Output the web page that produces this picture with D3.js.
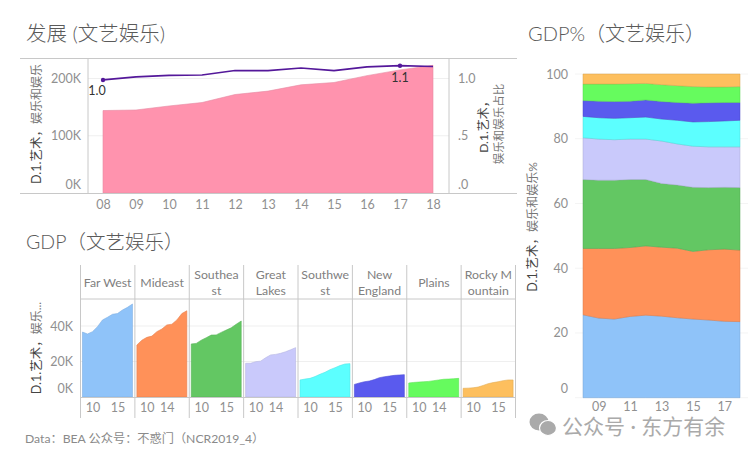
<!DOCTYPE html>
<html><head><meta charset="utf-8">
<script src="https://cdnjs.cloudflare.com/ajax/libs/d3/7.8.5/d3.min.js"></script>
<style>
html,body{margin:0;padding:0;background:#fff}
svg{display:block}
text{font-family:Lato,"Noto Sans CJK SC",sans-serif}
.tick line,.domain{display:none}
.tick text{fill:#909090;font-size:12.5px;font-family:Lato,sans-serif}
</style></head><body>
<script>
const years=[2008,2009,2010,2011,2012,2013,2014,2015,2016,2017,2018];
const totalGdp=[144,145,152,158,172,178,189,193,205,215,223];
const shareLine=[0.983,1.009,1.022,1.026,1.065,1.065,1.087,1.065,1.096,1.107,1.1];
const regions=["Far West","Mideast","Southeast","Great Lakes","Southwest","New England","Plains","Rocky Mountain"];
const regionHeaders=[["Far West"],["Mideast"],["Southea","st"],["Great","Lakes"],["Southwe","st"],["New","England"],["Plains"],["Rocky M","ountain"]];
const regionTicks=[[10,15],[10,14],[10,15],[10,14],[10,15],[10,15],[10,14],[10,15]];
const regionColors=["#8fc3f9","#ff9159","#63c763","#c9c9fb","#5cffff","#5a5aee","#66fb5e","#fdbf5e"];
const farWest=[36.6,35.5,36.8,39.6,43.4,44.9,46.6,47,49,50.5,52.4];
const mideast=[29.3,32,33.6,34.3,36.8,38.3,40.6,41,43.4,47,48.6];
const southeast=[29.9,30.2,32,33.4,34.9,35,36.4,37.7,39,41,42.8];
const greatLakes=[19,19,19.9,20.2,22.1,23.7,24,24.6,25.5,26.6,27.8];
const southwest=[9.6,10.1,10.5,11.5,12.8,13.9,15.4,16.5,17.7,18.6,18.8];
const newEngland=[7.1,7.9,8.6,9,9.8,10.9,11.4,11.8,12.2,12.4,12.6];
const plains=[7.9,8.2,8.4,8.6,8.8,9.2,9.6,10,10.1,10.3,10.5];
const rocky=[4.9,5,5.2,5.6,6.5,7.5,8.1,8.6,9.2,9.6,9.6];
const regionGdp=[farWest,mideast,southeast,greatLakes,southwest,newEngland,plains,rocky];
const pctFarWest=[25.6,24.6,24.3,25.1,25.5,25.2,24.7,24.3,24.0,23.6,23.5];
const pctMideast=[20.5,21.5,21.8,21.3,21.4,21.3,21.5,20.9,21.7,22.3,22.1];
const pctSoutheast=[21.3,21.1,21.1,21.0,20.5,19.7,19.5,19.8,19.2,19.1,19.3];
const pctGreatLakes=[12.9,12.7,12.5,12.5,12.5,13.1,12.7,12.7,12.6,12.5,12.6];
const pctSouthwest=[6.6,6.6,6.6,6.6,6.8,6.8,7.3,7.5,7.8,8,8.2];
const pctNewEngland=[4.9,5.1,5.2,5.1,5.3,5.4,5.5,5.8,5.8,5.7,5.5];
const pctPlains=[5.1,5.3,5.4,5.4,5.1,5.2,5.2,5.1,4.9,4.8,4.9];
const pctRocky=[3.1,3.1,3.1,3.0,2.9,3.3,3.6,3.9,4,4,3.9];
const regionPct=[pctFarWest,pctMideast,pctSoutheast,pctGreatLakes,pctSouthwest,pctNewEngland,pctPlains,pctRocky];

const svg=d3.select("body").append("svg").attr("width",751).attr("height",455);
const yy=v=>String(v%100).padStart(2,"0");
const rule="#c8c8c8",grid="#efefef";
function hline(x1,x2,y,c){svg.append("line").attr("x1",x1).attr("x2",x2).attr("y1",y).attr("y2",y).attr("stroke",c);}
function vline(x,y1,y2,c){svg.append("line").attr("x1",x).attr("x2",x).attr("y1",y1).attr("y2",y2).attr("stroke",c);}
function title(t,x,y,size){svg.append("text").attr("x",x).attr("y",y).attr("font-size",size||19.5).attr("font-weight",300).attr("fill","#5a5a5a").text(t);}
function vtitle(x,cy,dark,light){
  const t=svg.append("text").attr("transform",`translate(${x},${cy}) rotate(-90)`).attr("text-anchor","middle").attr("font-size",12).attr("fill","#777");
  t.append("tspan").attr("fill","#444").attr("font-size",12.5).text(dark);
  t.append("tspan").text(light);
}
function fixZero(g){g.selectAll(".tick").filter(d=>d===0).select("text").attr("dy","-0.4em");}

// ---------- top: development ----------
title("发展 (文艺娱乐)",26,41,20.5);
const tx=d3.scaleLinear().domain([2008,2018]).range([103,433]);
const ty=d3.scaleLinear().domain([0,200]).range([193,78.5]);
const tyR=d3.scaleLinear().domain([0,1]).range([193,78]);
[100,200].forEach(v=>hline(88,449,ty(v),grid));
svg.append("path").datum(years.map((y,i)=>[y,totalGdp[i]]))
  .attr("fill","#ff93ae").attr("stroke","#e58aa2").attr("stroke-width",.6)
  .attr("d",d3.area().x(d=>tx(d[0])).y0(ty(0)).y1(d=>ty(d[1])));
hline(20,517,58.5,rule);hline(20,517,193.5,rule);
vline(88,58,193,rule);vline(449,58,193,rule);
svg.append("path").datum(years.map((y,i)=>[y,shareLine[i]]))
  .attr("fill","none").attr("stroke","#54189a").attr("stroke-width",1.7)
  .attr("d",d3.line().x(d=>tx(d[0])).y(d=>tyR(d[1])));
[0,9].forEach(i=>svg.append("circle").attr("cx",tx(years[i])).attr("cy",tyR(shareLine[i])).attr("r",2.2).attr("fill","#54189a"));
svg.append("text").attr("x",97).attr("y",95).attr("text-anchor","middle").attr("font-size",12.5).attr("fill","#333").text("1.0");
svg.append("text").attr("x",400).attr("y",82).attr("text-anchor","middle").attr("font-size",12.5).attr("fill","#333").text("1.1");
svg.append("g").attr("transform","translate(0,193)").call(d3.axisBottom(tx).tickValues(years).tickFormat(yy).tickSize(0).tickPadding(7));
svg.append("g").attr("transform","translate(84,0)").call(d3.axisLeft(ty).tickValues([0,100,200]).tickFormat(d=>d+"K").tickSize(0).tickPadding(3)).call(fixZero);
svg.append("g").attr("transform","translate(455,0)").call(d3.axisRight(tyR).tickValues([0,.5,1]).tickFormat(d=>d===1?"1.0":d===0?".0":".5").tickSize(0).tickPadding(3)).call(fixZero);
vtitle(41,124,"D.1.艺术，","娱乐和娱乐");
svg.append("text").attr("transform","translate(488,124) rotate(-90)").attr("text-anchor","middle").attr("font-size",12).attr("fill","#444").text("D.1.艺术，");
svg.append("text").attr("transform","translate(503,124) rotate(-90)").attr("text-anchor","middle").attr("font-size",11.5).attr("fill","#777").text("娱乐和娱乐占比");

// ---------- bottom-left: small multiples ----------
title("GDP（文艺娱乐）",26,249);
const band=d3.scaleBand().domain(regions).range([80.5,515.5]);
const py=d3.scaleLinear().domain([0,40]).range([397,326]);
[20,40].forEach(v=>hline(80,516,py(v),grid));
regions.forEach((r,k)=>{
  const x0=band(r),bw=band.bandwidth();
  const px=d3.scaleLinear().domain([2008,2018]).range([x0+2,x0+bw-2.4]);
  svg.append("path").datum(years.map((y,i)=>[y,regionGdp[k][i]]))
    .attr("fill",regionColors[k]).attr("stroke",d3.color(regionColors[k]).darker(.3)).attr("stroke-width",.6)
    .attr("d",d3.area().x(d=>px(d[0])).y0(py(0)).y1(d=>py(d[1])));
  svg.append("g").attr("transform","translate(0,397)")
    .call(d3.axisBottom(px).tickValues(regionTicks[k].map(v=>2000+v)).tickFormat(yy).tickSize(0).tickPadding(6));
  const lines=regionHeaders[k];
  lines.forEach((l,j)=>svg.append("text").attr("x",x0+bw/2).attr("y",(lines.length===1?283:275+j*16.3)+4)
    .attr("text-anchor","middle").attr("font-size",12.3).attr("fill","#808080").text(l));
});
hline(80,516,299,rule);hline(80,516,397.5,rule);
d3.range(regions.length+1).forEach(i=>vline(80.5+i*band.bandwidth(),265,418,rule));
svg.append("g").attr("transform","translate(76,0)").call(d3.axisLeft(py).tickValues([0,20,40]).tickFormat(d=>d+"K").tickSize(0).tickPadding(3)).call(fixZero);
vtitle(41,348,"D.1.艺术，","娱乐...");

// ---------- right: share stack ----------
title("GDP%（文艺娱乐）",528,41,20);
const sx=d3.scaleLinear().domain([2008,2018]).range([583,740]);
const sy=d3.scaleLinear().domain([0,100]).range([397.7,74]);
[0,20,40,60,80,100].forEach(v=>hline(575,748,sy(v),"#f4f4f4"));
const rows=years.map((y,i)=>{const o={year:y};regions.forEach((r,k)=>o[r]=regionPct[k][i]);return o;});
const stacked=d3.stack().keys(regions)(rows);
svg.append("g").selectAll("path").data(stacked).join("path")
  .attr("fill",(d,i)=>regionColors[i]).attr("stroke",(d,i)=>d3.color(regionColors[i]).darker(.5)).attr("stroke-width",.5)
  .attr("d",d3.area().x(d=>sx(d.data.year)).y0(d=>sy(d[0])).y1(d=>sy(d[1])));
svg.append("g").attr("transform","translate(0,397)").call(d3.axisBottom(sx).tickValues([2009,2011,2013,2015,2017]).tickFormat(yy).tickSize(0).tickPadding(5));
svg.append("g").attr("transform","translate(568,0)").call(d3.axisLeft(sy).tickValues([0,20,40,60,80,100]).tickSize(0).tickPadding(0)).call(fixZero);
vtitle(537,227,"D.1.艺术，","娱乐和娱乐%");

// ---------- footer + watermark ----------
svg.append("text").attr("x",25).attr("y",443).attr("font-size",12.2).attr("fill","#8a8a8a").text("Data：BEA  公众号：不惑门（NCR2019_4）");
const wm=svg.append("g").attr("fill","#aaa");
wm.append("ellipse").attr("cx",539).attr("cy",422).attr("rx",9.5).attr("ry",8.5);
wm.append("ellipse").attr("cx",548).attr("cy",428).attr("rx",8.5).attr("ry",7.5).attr("stroke","#fff").attr("stroke-width",1.2);
svg.append("text").attr("x",562).attr("y",434).attr("font-size",21).attr("fill","#aaa").text("公众号 · 东方有余");
</script>
</body></html>
